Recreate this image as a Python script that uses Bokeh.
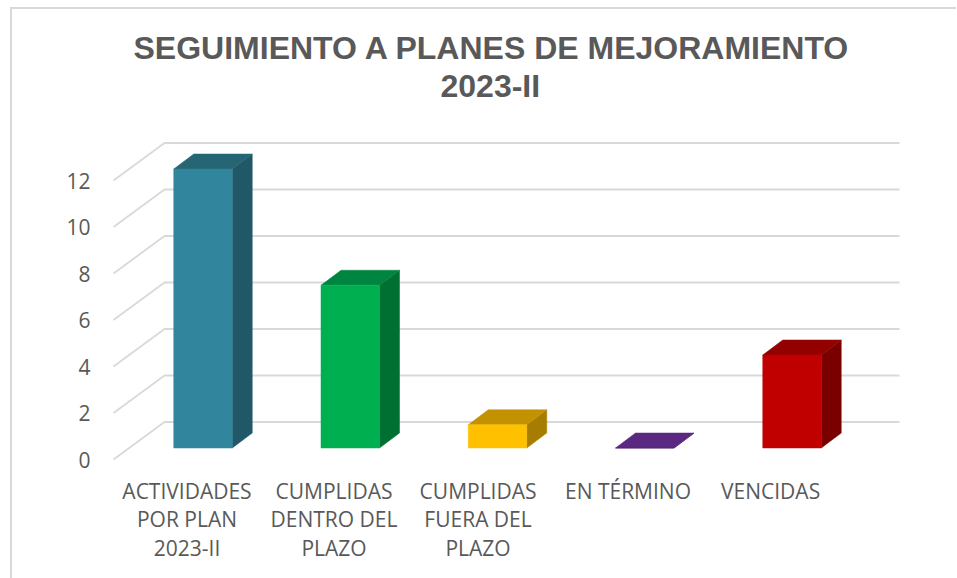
from bokeh.plotting import figure
from bokeh.models import FixedTicker, Title, Range1d
from bokeh.embed import file_html
from bokeh.resources import INLINE

title_lines = ["SEGUIMIENTO A PLANES DE MEJORAMIENTO", "2023-II"]
categories = ["ACTIVIDADES\nPOR PLAN\n2023-II", "CUMPLIDAS\nDENTRO DEL\nPLAZO",
              "CUMPLIDAS\nFUERA DEL\nPLAZO", "EN TÉRMINO", "VENCIDAS"]
label_positions = [0, 1, 1.98, 3, 3.97]
values = [12, 7, 1, 0, 4]
y_ticks = [0, 2, 4, 6, 8, 10, 12]
front_colors = ["#31859C", "#00B050", "#FFC000", "#5A2781", "#C00000"]
top_colors = ["#256574", "#008540", "#C29200", "#5A2781", "#920000"]
side_colors = ["#205867", "#006F32", "#A67D00", "#5A2781", "#7A0000"]

W, H = 957, 578
FL, FR, FT, FB = 100, 957, 103, 470  # frame edges in page pixels
PX_X, PX_Y = 147.0, 23.25            # pixels per data unit
X0, Y0 = 186.5, 459.0                # pixel position of data (0,0)

# depth offsets, data units
wall_dx, wall_dy = 51 / PX_X, 37.5 / PX_Y
bar_dx, bar_dy = 20 / PX_X, 15 / PX_Y
bar_w = 58.5 / PX_X
bar_step = 147.25 / PX_X
bar_off_x, bar_off_y = 16 / PX_X, 11.5 / PX_Y

p = figure(width=W, height=H, output_backend="svg", toolbar_location=None,
           x_range=Range1d((FL - X0) / PX_X, (FR - X0) / PX_X),
           y_range=Range1d((Y0 - FB) / PX_Y, (Y0 - FT) / PX_Y),
           min_border_left=FL, min_border_right=W - FR, min_border_bottom=H - FB, min_border_top=FT)
p.outline_line_color = None
p.grid.visible = False
p.border_fill_color = None
p.background_fill_color = None

# chart-area border (only top and left are in view)
p.styles = {
    "background-image": "linear-gradient(#D9D9D9,#D9D9D9),linear-gradient(#D9D9D9,#D9D9D9)",
    "background-size": "2px 570px, 946px 2px",
    "background-position": "10px 8px, 10px 7px",
    "background-repeat": "no-repeat",
}

for ax in (p.xaxis[0], p.yaxis[0]):
    ax.axis_line_color = None
    ax.major_tick_line_color = None
    ax.minor_tick_line_color = None
    ax.major_label_text_font = "Open Sans"
    ax.major_label_text_font_size = "21px"
    ax.major_label_text_color = "#595959"

p.yaxis.ticker = FixedTicker(ticks=y_ticks)
p.yaxis.major_label_standoff = 4
p.xaxis.ticker = FixedTicker(ticks=label_positions)
p.xaxis.major_label_overrides = dict(zip(label_positions, categories))
p.xaxis.major_label_standoff = 0
p.xaxis.major_label_text_line_height = 1.03

# title lines, stacked above the frame
p.add_layout(Title(text=title_lines[1], align="left", offset=340, standoff=0, text_line_height=0.9,
                   text_font="Liberation Sans", text_font_size="32px", text_font_style="bold",
                   text_color="#595959"), "above")
p.add_layout(Title(text=title_lines[0], align="left", offset=33, standoff=0, text_line_height=0.9,
                   text_font="Liberation Sans", text_font_size="32px", text_font_style="bold",
                   text_color="#595959"), "above")

# wall gridlines, floor to back plane
xs_g = [[-0.5, -0.5 + wall_dx, len(categories) - 0.5 + wall_dx] for _ in y_ticks]
ys_g = [[t, t + wall_dy, t + wall_dy] for t in y_ticks]
p.multi_line(xs_g, ys_g, line_color="#D9D9D9", line_width=1.8)

# bars: front, top and side faces
front_x, front_y, top_x, top_y, side_x, side_y = [], [], [], [], [], []
for i, v in enumerate(values):
    l = i * bar_step + bar_off_x - bar_w / 2
    r = l + bar_w
    b = bar_off_y
    t = v + bar_off_y
    front_x.append([l, r, r, l]);  front_y.append([b, b, t, t])
    top_x.append([l, r, r + bar_dx, l + bar_dx]);  top_y.append([t, t, t + bar_dy, t + bar_dy])
    side_x.append([r, r + bar_dx, r + bar_dx, r]);  side_y.append([b, b + bar_dy, t + bar_dy, t])

p.patches(side_x, side_y, fill_color=side_colors, line_color=side_colors, line_width=0.5)
p.patches(top_x, top_y, fill_color=top_colors, line_color=top_colors, line_width=0.5)
p.patches(front_x, front_y, fill_color=front_colors, line_color=front_colors, line_width=0.5)

open("out.html", "w").write(file_html(p, INLINE))
